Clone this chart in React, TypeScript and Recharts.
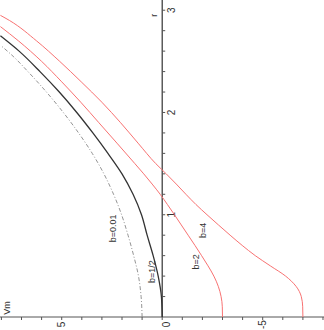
import React from 'react'
import {
  ScatterChart, Scatter, XAxis, YAxis, ReferenceLine, ReferenceDot,
} from 'recharts'

// curves: r (vertical) against Vm (horizontal, reversed)
const rB001 = [0, 0.2, 0.4, 0.6, 0.8, 1.0, 1.2, 1.4, 1.6, 1.8, 2.0, 2.2, 2.4, 2.55, 2.65]
const vmB001 = [1.0, 1.05, 1.18, 1.42, 1.7, 2.02, 2.42, 2.9, 3.48, 4.16, 4.92, 5.76, 6.68, 7.42, 8.0]

const rHalf = [0, 0.2, 0.4, 0.6, 0.8, 1.0, 1.2, 1.4, 1.6, 1.8, 2.0, 2.2, 2.4, 2.6, 2.75]
const vmHalf = [0, 0.04, 0.2, 0.45, 0.75, 1.03, 1.45, 2.0, 2.7, 3.45, 4.25, 5.12, 6.08, 7.12, 8.05]

const rB2 = [0, 0.1, 0.2, 0.3, 0.4, 0.5, 0.6, 0.7, 0.8, 0.9, 1.0, 1.1, 1.2, 1.3, 1.4, 1.5, 1.7, 1.9, 2.1, 2.3, 2.5, 2.7, 2.84]
const vmB2 = [-3.0, -2.99, -2.93, -2.79, -2.57, -2.28, -1.96, -1.63, -1.29, -0.95, -0.61, -0.26, 0.1, 0.5, 0.92, 1.36, 2.25, 3.15, 4.05, 5.0, 6.0, 7.15, 8.05]

const rB4 = [0, 0.1, 0.2, 0.3, 0.4, 0.5, 0.6, 0.7, 0.8, 0.9, 1.0, 1.1, 1.2, 1.3, 1.4, 1.5, 1.7, 1.9, 2.1, 2.3, 2.5, 2.7, 2.9, 2.95]
const vmB4 = [-7.0, -6.99, -6.92, -6.66, -6.14, -5.38, -4.63, -3.98, -3.38, -2.8, -2.23, -1.68, -1.18, -0.7, -0.2, 0.32, 1.2, 2.07, 3.0, 4.03, 5.1, 6.25, 7.6, 8.05]

const xTicks = [-8, -7, -6, -5, -4, -3, -2, -1, 0, 1, 2, 3, 4, 5, 6, 7, 8]
const rTicks = [0.2, 0.4, 0.6, 0.8, 1, 1.2, 1.4, 1.6, 1.8, 2, 2.2, 2.4, 2.6, 2.8, 3]
const rLabels = [1, 2, 3]

const curveLabels = [
  { text: 'b=0.01', vm: 2.43, r: 0.867 },
  { text: 'b=1/2', vm: 0.52, r: 0.443 },
  { text: 'b=2', vm: -1.67, r: 0.54 },
  { text: 'b=4', vm: -2.04, r: 0.848 },
  { text: 'Vm', vm: 7.7, r: 0.088 },
  { text: 'r', vm: 0.43, r: 2.95 },
]

const zip = (r: number[], vm: number[]) => r.map((v, i) => ({ r: v, vm: vm[i] }))

const AXIS = '#555'
const TEXT = '#333'
const RED = '#f87272'

const noDot = () => <g />

const rotText = (text: string, size = 10) => (p: any) => (
  <text
    x={p.cx}
    y={p.cy}
    transform={`rotate(-90 ${p.cx} ${p.cy})`}
    textAnchor="middle"
    dominantBaseline="central"
    fontSize={size}
    fill={TEXT}
  >
    {text}
  </text>
)

const XTick = (props: any) => {
  const { x, y, payload } = props
  const v = payload.value
  if (v % 5 !== 0) return <g />
  const cx = x + (v === 0 ? 4.5 : 0)
  const cy = y + 2.5
  return (
    <text
      x={cx}
      y={cy}
      transform={`rotate(-90 ${cx} ${cy})`}
      textAnchor="middle"
      dominantBaseline="central"
      fontSize={10}
      fill={TEXT}
    >
      {String(v)}
    </text>
  )
}

export default function App() {
  return (
    <div style={{ position: 'absolute', left: 0, top: 0, fontFamily: '"Liberation Sans", Arial, sans-serif' }}>
      <ScatterChart width={324} height={330} margin={{ top: 0, right: 0, bottom: 0, left: 0 }}>
        <XAxis
          type="number"
          dataKey="vm"
          domain={[-8.05, 8.07]}
          allowDataOverflow
          reversed
          ticks={xTicks}
          interval={0}
          tickSize={3}
          height={13}
          axisLine={{ stroke: AXIS }}
          tickLine={{ stroke: AXIS }}
          tick={<XTick />}
        />
        <YAxis type="number" dataKey="r" domain={[0, 3.1]} allowDataOverflow hide />

        <ReferenceLine x={0} stroke="#333" strokeWidth={1.2} />
        {rTicks.map((t) => (
          <ReferenceLine
            key={`rt-${t}`}
            segment={[{ x: 0, y: t }, { x: -0.15, y: t }]}
            stroke={AXIS}
          />
        ))}
        {rLabels.map((t) => (
          <ReferenceDot key={`rl-${t}`} x={-0.44} y={t} r={0} ifOverflow="visible" shape={rotText(String(t))} />
        ))}

        <Scatter
          data={zip(rB001, vmB001)}
          fill="#888"
          line={{ stroke: '#888', strokeWidth: 0.9, strokeDasharray: '4 2 1 2' }}
          lineType="joint"
          lineJointType="monotoneY"
          shape={noDot}
          isAnimationActive={false}
        />
        <Scatter
          data={zip(rHalf, vmHalf)}
          fill="#333"
          line={{ stroke: '#333', strokeWidth: 1.3 }}
          lineType="joint"
          lineJointType="monotoneY"
          shape={noDot}
          isAnimationActive={false}
        />
        <Scatter
          data={zip(rB2, vmB2)}
          fill={RED}
          line={{ stroke: RED, strokeWidth: 1 }}
          lineType="joint"
          lineJointType="monotoneY"
          shape={noDot}
          isAnimationActive={false}
        />
        <Scatter
          data={zip(rB4, vmB4)}
          fill={RED}
          line={{ stroke: RED, strokeWidth: 1 }}
          lineType="joint"
          lineJointType="monotoneY"
          shape={noDot}
          isAnimationActive={false}
        />

        {curveLabels.map((l) => (
          <ReferenceDot key={l.text} x={l.vm} y={l.r} r={0} ifOverflow="visible" shape={rotText(l.text, 9)} />
        ))}
      </ScatterChart>
    </div>
  )
}
